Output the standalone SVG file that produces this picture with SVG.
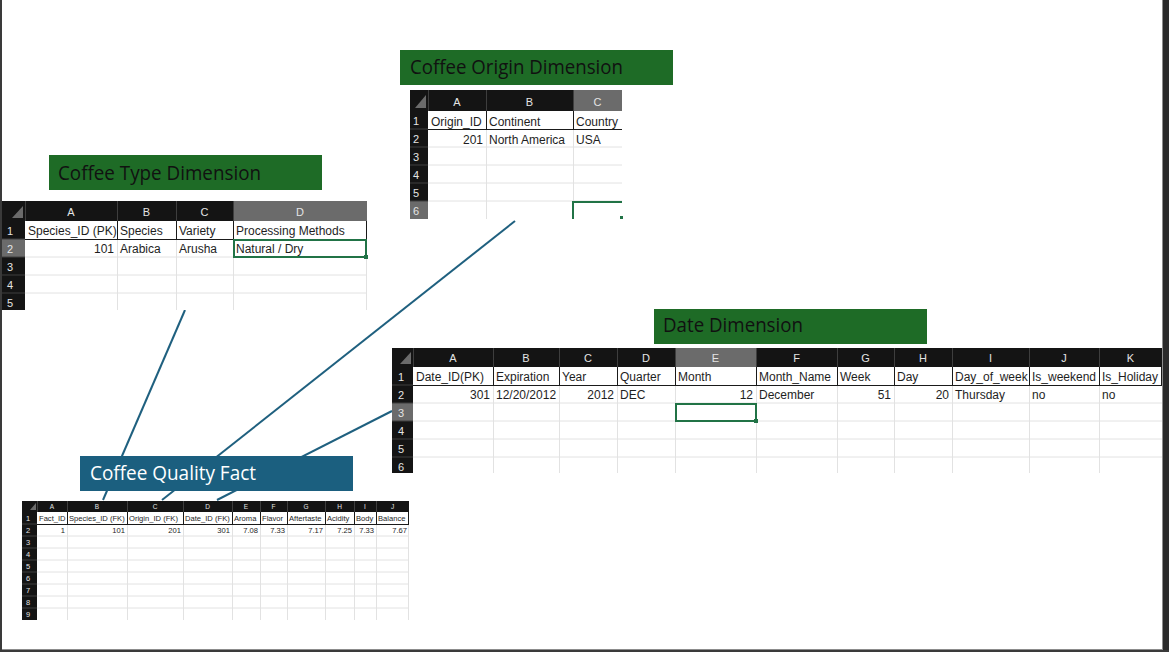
<svg xmlns="http://www.w3.org/2000/svg" width="1169" height="652" viewBox="0 0 1169 652">
<style>
.bg{fill:#ffffff}
.hdr{fill:#141414}
.hsel{fill:#6b6b6b}
.hsep{stroke:#3e3e3e;stroke-width:1}
.grid{stroke:#e2e2e2;stroke-width:1}
.bk{stroke:#1a1a1a;stroke-width:1}
.cell{font-family:"Liberation Sans",Arial,sans-serif;font-size:12px;fill:#1e1e1e}
.r{text-anchor:end}
.colh{font-family:"Liberation Sans",Arial,sans-serif;font-size:11px;fill:#e4e4e4;text-anchor:middle}
.rown{font-family:"Liberation Sans",Arial,sans-serif;font-size:11px;fill:#e4e4e4}
.fcell{font-family:"Liberation Sans",Arial,sans-serif;font-size:7.6px;fill:#1e1e1e}
.fcolh{font-family:"Liberation Sans",Arial,sans-serif;font-size:6.5px;fill:#e4e4e4;text-anchor:middle}
.frown{font-family:"Liberation Sans",Arial,sans-serif;font-size:7.5px;fill:#e4e4e4}
.dimtitle{fill:#1e6b26}
.facttitle{fill:#1b5f7f}
.ttl{font-family:"Open Sans","Noto Sans",sans-serif;font-size:20px;fill:#111111}
.ttlw{font-family:"Open Sans","Noto Sans",sans-serif;font-size:20px;fill:#ffffff}
.conn{stroke:#1f607f;stroke-width:2;fill:none}
.sel{fill:none;stroke:#217346;stroke-width:2}
.handle{fill:#217346}
.corner{fill:#6b6b6b}
</style>
<rect x="0" y="0" width="1169" height="652" fill="#ffffff"/>

<g id="connectors">
<line class="conn" x1="185" y1="310" x2="103" y2="500"/>
<line class="conn" x1="515" y1="221" x2="162" y2="500"/>
<line class="conn" x1="392" y1="411" x2="217" y2="500"/>
</g>

<g id="coffee-type-dimension">
<rect class="dimtitle" x="49" y="155" width="273" height="35"/>
<text class="ttl" x="58" y="180" textLength="203" lengthAdjust="spacingAndGlyphs">Coffee Type Dimension</text>
<rect class="bg" x="25" y="221" width="342" height="89"/>
<g class="grid">
<line x1="25" y1="257" x2="367" y2="257"/><line x1="25" y1="275" x2="367" y2="275"/><line x1="25" y1="293" x2="367" y2="293"/>
<line x1="117.5" y1="239" x2="117.5" y2="310"/><line x1="176.5" y1="239" x2="176.5" y2="310"/><line x1="233.5" y1="239" x2="233.5" y2="310"/><line x1="366.5" y1="239" x2="366.5" y2="310"/>
</g>
<g class="bk">
<line x1="25" y1="239.5" x2="367" y2="239.5"/>
<line x1="117.5" y1="221" x2="117.5" y2="239"/><line x1="176.5" y1="221" x2="176.5" y2="239"/><line x1="233.5" y1="221" x2="233.5" y2="239"/><line x1="366.5" y1="221" x2="366.5" y2="239"/>
</g>
<rect class="hdr" x="2" y="201" width="365" height="20"/>
<rect class="hsel" x="233" y="201" width="134" height="20"/>
<g class="hsep"><line x1="25.5" y1="201" x2="25.5" y2="221"/><line x1="117.5" y1="201" x2="117.5" y2="221"/><line x1="176.5" y1="201" x2="176.5" y2="221"/><line x1="233.5" y1="201" x2="233.5" y2="221"/></g>
<polygon class="corner" points="23,206 23,218 12,218"/>
<text class="colh" x="71" y="216">A</text><text class="colh" x="146.5" y="216">B</text><text class="colh" x="204.5" y="216">C</text><text class="colh" x="300" y="216">D</text>
<rect class="hdr" x="2" y="221" width="23" height="89"/>
<rect class="hsel" x="2" y="239" width="23" height="18"/>
<g class="hsep"><line x1="2" y1="239" x2="25" y2="239"/><line x1="2" y1="257" x2="25" y2="257"/><line x1="2" y1="275" x2="25" y2="275"/><line x1="2" y1="293" x2="25" y2="293"/></g>
<text class="rown" x="7" y="235">1</text><text class="rown" x="7" y="253">2</text><text class="rown" x="7" y="271">3</text><text class="rown" x="7" y="289">4</text><text class="rown" x="7" y="307">5</text>
<text class="cell" x="28" y="235">Species_ID (PK)</text><text class="cell" x="120" y="235">Species</text><text class="cell" x="179" y="235">Variety</text><text class="cell" x="236" y="235">Processing Methods</text>
<text class="cell r" x="114" y="253">101</text><text class="cell" x="120" y="253">Arabica</text><text class="cell" x="179" y="253">Arusha</text><text class="cell" x="236" y="253">Natural / Dry</text>
<rect class="sel" x="234" y="240" width="132" height="17"/>
<rect class="handle" x="364" y="255" width="4" height="4"/>
</g>

<g id="coffee-origin-dimension">
<rect class="dimtitle" x="400" y="50" width="273" height="35"/>
<text class="ttl" x="410" y="74" textLength="213" lengthAdjust="spacingAndGlyphs">Coffee Origin Dimension</text>
<rect class="bg" x="428" y="111" width="194" height="108"/>
<g class="grid">
<line x1="428" y1="147" x2="622" y2="147"/><line x1="428" y1="165" x2="622" y2="165"/><line x1="428" y1="183" x2="622" y2="183"/><line x1="428" y1="201" x2="622" y2="201"/>
<line x1="486.5" y1="129" x2="486.5" y2="219"/><line x1="573.5" y1="129" x2="573.5" y2="219"/>
</g>
<g class="bk">
<line x1="428" y1="129.5" x2="622" y2="129.5"/>
<line x1="486.5" y1="111" x2="486.5" y2="129"/><line x1="573.5" y1="111" x2="573.5" y2="129"/>
</g>
<rect class="hdr" x="410" y="90" width="212" height="21"/>
<rect class="hsel" x="573" y="90" width="49" height="21"/>
<g class="hsep"><line x1="428.5" y1="90" x2="428.5" y2="111"/><line x1="486.5" y1="90" x2="486.5" y2="111"/><line x1="573.5" y1="90" x2="573.5" y2="111"/></g>
<polygon class="corner" points="426,95 426,108 415,108"/>
<text class="colh" x="457" y="106">A</text><text class="colh" x="529.5" y="106">B</text><text class="colh" x="597.5" y="106">C</text>
<rect class="hdr" x="410" y="111" width="18" height="108"/>
<rect class="hsel" x="410" y="201" width="18" height="18"/>
<g class="hsep"><line x1="410" y1="129" x2="428" y2="129"/><line x1="410" y1="147" x2="428" y2="147"/><line x1="410" y1="165" x2="428" y2="165"/><line x1="410" y1="183" x2="428" y2="183"/><line x1="410" y1="201" x2="428" y2="201"/></g>
<text class="rown" x="413" y="125">1</text><text class="rown" x="413" y="143">2</text><text class="rown" x="413" y="161">3</text><text class="rown" x="413" y="179">4</text><text class="rown" x="413" y="197">5</text><text class="rown" x="413" y="215">6</text>
<text class="cell" x="431" y="126">Origin_ID</text><text class="cell" x="489" y="126">Continent</text><text class="cell" x="576" y="126">Country</text>
<text class="cell r" x="483" y="144">201</text><text class="cell" x="489" y="144">North America</text><text class="cell" x="576" y="144">USA</text>
<path class="sel" d="M573,219 V202 H622"/>
<rect class="handle" x="620" y="216" width="3" height="3"/>
</g>

<g id="date-dimension">
<rect class="dimtitle" x="654" y="309" width="273" height="35"/>
<text class="ttl" x="663" y="332" textLength="140" lengthAdjust="spacingAndGlyphs">Date Dimension</text>
<rect class="bg" x="413" y="367" width="749" height="106"/>
<g class="grid">
<line x1="413" y1="421" x2="1162" y2="421"/><line x1="413" y1="439" x2="1162" y2="439"/><line x1="413" y1="457" x2="1162" y2="457"/><line x1="413" y1="403" x2="1162" y2="403"/>
<line x1="493.5" y1="385" x2="493.5" y2="473"/><line x1="559.5" y1="385" x2="559.5" y2="473"/><line x1="617.5" y1="385" x2="617.5" y2="473"/><line x1="675.5" y1="385" x2="675.5" y2="473"/><line x1="756.5" y1="385" x2="756.5" y2="473"/><line x1="837.5" y1="385" x2="837.5" y2="473"/><line x1="894.5" y1="385" x2="894.5" y2="473"/><line x1="952.5" y1="385" x2="952.5" y2="473"/><line x1="1029.5" y1="385" x2="1029.5" y2="473"/><line x1="1099.5" y1="385" x2="1099.5" y2="473"/>
</g>
<g class="bk">
<line x1="413" y1="385.5" x2="1162" y2="385.5"/>
<line x1="493.5" y1="367" x2="493.5" y2="385"/><line x1="559.5" y1="367" x2="559.5" y2="385"/><line x1="617.5" y1="367" x2="617.5" y2="385"/><line x1="675.5" y1="367" x2="675.5" y2="385"/><line x1="756.5" y1="367" x2="756.5" y2="385"/><line x1="837.5" y1="367" x2="837.5" y2="385"/><line x1="894.5" y1="367" x2="894.5" y2="385"/><line x1="952.5" y1="367" x2="952.5" y2="385"/><line x1="1029.5" y1="367" x2="1029.5" y2="385"/><line x1="1099.5" y1="367" x2="1099.5" y2="385"/><line x1="1161.5" y1="367" x2="1161.5" y2="385"/>
</g>
<rect class="hdr" x="392" y="348" width="770" height="19"/>
<rect class="hsel" x="675" y="348" width="81" height="19"/>
<g class="hsep"><line x1="413.5" y1="348" x2="413.5" y2="367"/><line x1="493.5" y1="348" x2="493.5" y2="367"/><line x1="559.5" y1="348" x2="559.5" y2="367"/><line x1="617.5" y1="348" x2="617.5" y2="367"/><line x1="675.5" y1="348" x2="675.5" y2="367"/><line x1="756.5" y1="348" x2="756.5" y2="367"/><line x1="837.5" y1="348" x2="837.5" y2="367"/><line x1="894.5" y1="348" x2="894.5" y2="367"/><line x1="952.5" y1="348" x2="952.5" y2="367"/><line x1="1029.5" y1="348" x2="1029.5" y2="367"/><line x1="1099.5" y1="348" x2="1099.5" y2="367"/></g>
<polygon class="corner" points="411,352 411,364 400,364"/>
<text class="colh" x="453" y="362">A</text><text class="colh" x="526" y="362">B</text><text class="colh" x="588" y="362">C</text><text class="colh" x="646" y="362">D</text><text class="colh" x="715.5" y="362">E</text><text class="colh" x="796.5" y="362">F</text><text class="colh" x="865.5" y="362">G</text><text class="colh" x="923" y="362">H</text><text class="colh" x="990.5" y="362">I</text><text class="colh" x="1064" y="362">J</text><text class="colh" x="1130.5" y="362">K</text>
<rect class="hdr" x="392" y="367" width="21" height="106"/>
<rect class="hsel" x="392" y="403" width="21" height="18"/>
<g class="hsep"><line x1="392" y1="385" x2="413" y2="385"/><line x1="392" y1="403" x2="413" y2="403"/><line x1="392" y1="421" x2="413" y2="421"/><line x1="392" y1="439" x2="413" y2="439"/><line x1="392" y1="457" x2="413" y2="457"/></g>
<text class="rown" x="398" y="381">1</text><text class="rown" x="398" y="399">2</text><text class="rown" x="398" y="417">3</text><text class="rown" x="398" y="435">4</text><text class="rown" x="398" y="453">5</text><text class="rown" x="398" y="471">6</text>
<text class="cell" x="416" y="381">Date_ID(PK)</text><text class="cell" x="496" y="381">Expiration</text><text class="cell" x="562" y="381">Year</text><text class="cell" x="620" y="381">Quarter</text><text class="cell" x="678" y="381">Month</text><text class="cell" x="759" y="381">Month_Name</text><text class="cell" x="840" y="381">Week</text><text class="cell" x="897" y="381">Day</text><text class="cell" x="955" y="381">Day_of_week</text><text class="cell" x="1032" y="381">Is_weekend</text><text class="cell" x="1102" y="381">Is_Holiday</text>
<text class="cell r" x="490" y="399">301</text><text class="cell" x="496" y="399">12/20/2012</text><text class="cell r" x="614" y="399">2012</text><text class="cell" x="620" y="399">DEC</text><text class="cell r" x="753" y="399">12</text><text class="cell" x="759" y="399">December</text><text class="cell r" x="891" y="399">51</text><text class="cell r" x="949" y="399">20</text><text class="cell" x="955" y="399">Thursday</text><text class="cell" x="1032" y="399">no</text><text class="cell" x="1102" y="399">no</text>
<rect class="sel" x="676" y="404" width="80" height="17"/>
<rect class="handle" x="754" y="419" width="4" height="4"/>
</g>

<g id="coffee-quality-fact">
<rect class="facttitle" x="80" y="456" width="273" height="35"/>
<text class="ttlw" x="90" y="480" textLength="166" lengthAdjust="spacingAndGlyphs">Coffee Quality Fact</text>
<rect class="bg" x="37" y="512" width="372" height="108"/>
<g class="grid">
<line x1="37" y1="548" x2="409" y2="548"/><line x1="37" y1="560" x2="409" y2="560"/><line x1="37" y1="572" x2="409" y2="572"/><line x1="37" y1="584" x2="409" y2="584"/><line x1="37" y1="596" x2="409" y2="596"/><line x1="37" y1="608" x2="409" y2="608"/><line x1="37" y1="536" x2="409" y2="536"/>
<line x1="67.5" y1="524" x2="67.5" y2="620"/><line x1="127.5" y1="524" x2="127.5" y2="620"/><line x1="183.5" y1="524" x2="183.5" y2="620"/><line x1="232.5" y1="524" x2="232.5" y2="620"/><line x1="260.5" y1="524" x2="260.5" y2="620"/><line x1="287.5" y1="524" x2="287.5" y2="620"/><line x1="325.5" y1="524" x2="325.5" y2="620"/><line x1="354.5" y1="524" x2="354.5" y2="620"/><line x1="376.5" y1="524" x2="376.5" y2="620"/><line x1="408.5" y1="524" x2="408.5" y2="620"/>
</g>
<g class="bk">
<line x1="37" y1="524.5" x2="409" y2="524.5"/>
<line x1="67.5" y1="512" x2="67.5" y2="524"/><line x1="127.5" y1="512" x2="127.5" y2="524"/><line x1="183.5" y1="512" x2="183.5" y2="524"/><line x1="232.5" y1="512" x2="232.5" y2="524"/><line x1="260.5" y1="512" x2="260.5" y2="524"/><line x1="287.5" y1="512" x2="287.5" y2="524"/><line x1="325.5" y1="512" x2="325.5" y2="524"/><line x1="354.5" y1="512" x2="354.5" y2="524"/><line x1="376.5" y1="512" x2="376.5" y2="524"/><line x1="408.5" y1="512" x2="408.5" y2="524"/>
</g>
<rect class="hdr" x="22" y="501" width="387" height="11"/>
<g class="hsep"><line x1="37.5" y1="501" x2="37.5" y2="512"/><line x1="67.5" y1="501" x2="67.5" y2="512"/><line x1="127.5" y1="501" x2="127.5" y2="512"/><line x1="183.5" y1="501" x2="183.5" y2="512"/><line x1="232.5" y1="501" x2="232.5" y2="512"/><line x1="260.5" y1="501" x2="260.5" y2="512"/><line x1="287.5" y1="501" x2="287.5" y2="512"/><line x1="325.5" y1="501" x2="325.5" y2="512"/><line x1="354.5" y1="501" x2="354.5" y2="512"/><line x1="376.5" y1="501" x2="376.5" y2="512"/></g>
<polygon class="corner" points="36,503 36,510 30,510"/>
<text class="fcolh" x="52" y="509">A</text><text class="fcolh" x="97" y="509">B</text><text class="fcolh" x="155" y="509">C</text><text class="fcolh" x="207.5" y="509">D</text><text class="fcolh" x="246" y="509">E</text><text class="fcolh" x="273.5" y="509">F</text><text class="fcolh" x="306" y="509">G</text><text class="fcolh" x="339.5" y="509">H</text><text class="fcolh" x="365" y="509">I</text><text class="fcolh" x="392.5" y="509">J</text>
<rect class="hdr" x="22" y="512" width="15" height="108"/>
<g class="hsep"><line x1="22" y1="524" x2="37" y2="524"/><line x1="22" y1="536" x2="37" y2="536"/><line x1="22" y1="548" x2="37" y2="548"/><line x1="22" y1="560" x2="37" y2="560"/><line x1="22" y1="572" x2="37" y2="572"/><line x1="22" y1="584" x2="37" y2="584"/><line x1="22" y1="596" x2="37" y2="596"/><line x1="22" y1="608" x2="37" y2="608"/></g>
<text class="frown" x="26" y="521">1</text><text class="frown" x="26" y="533">2</text><text class="frown" x="26" y="545">3</text><text class="frown" x="26" y="557">4</text><text class="frown" x="26" y="569">5</text><text class="frown" x="26" y="581">6</text><text class="frown" x="26" y="593">7</text><text class="frown" x="26" y="605">8</text><text class="frown" x="26" y="617">9</text>
<text class="fcell" x="39" y="521">Fact_ID</text><text class="fcell" x="69" y="521">Species_ID (FK)</text><text class="fcell" x="129" y="521">Origin_ID (FK)</text><text class="fcell" x="185" y="521">Date_ID (FK)</text><text class="fcell" x="234" y="521">Aroma</text><text class="fcell" x="262" y="521">Flavor</text><text class="fcell" x="289" y="521">Aftertaste</text><text class="fcell" x="327" y="521">Acidity</text><text class="fcell" x="356" y="521">Body</text><text class="fcell" x="378" y="521">Balance</text>
<text class="fcell r" x="65" y="533">1</text><text class="fcell r" x="125" y="533">101</text><text class="fcell r" x="181" y="533">201</text><text class="fcell r" x="230" y="533">301</text><text class="fcell r" x="258" y="533">7.08</text><text class="fcell r" x="285" y="533">7.33</text><text class="fcell r" x="323" y="533">7.17</text><text class="fcell r" x="352" y="533">7.25</text><text class="fcell r" x="374" y="533">7.33</text><text class="fcell r" x="407" y="533">7.67</text>
</g>

<g id="frame">
<rect x="0" y="0" width="2" height="652" fill="#3a3a3a"/>
<rect x="1163" y="0" width="6" height="652" fill="#2a2a2a"/>
<line x1="1162.5" y1="0" x2="1162.5" y2="651" stroke="#8c8c8c" stroke-width="1"/>
<rect x="0" y="650" width="1169" height="2" fill="#3a3a3a"/>
<line x1="2" y1="649.5" x2="1163" y2="649.5" stroke="#8c8c8c" stroke-width="1"/>
</g>
</svg>
